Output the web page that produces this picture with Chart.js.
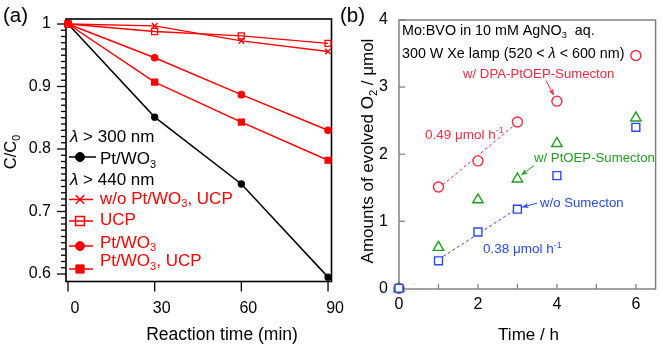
<!DOCTYPE html>
<html>
<head>
<meta charset="utf-8">
<script src="https://cdn.jsdelivr.net/npm/chart.js@4/dist/chart.umd.min.js"></script>
<style>
  html, body { margin: 0; padding: 0; background: #fff; }
  #wrap { position: relative; width: 663px; height: 347px; overflow: hidden; }
  canvas { position: absolute; top: 0; }
  #chartA { left: 0; }
  #chartB { left: 336px; }
</style>
</head>
<body>
<div id="wrap">
  <canvas id="chartA" width="350" height="347" style="width:350px;height:347px"></canvas>
  <canvas id="chartB" width="327" height="347" style="width:327px;height:347px"></canvas>
</div>
<script>
// ---- (a) C/C0 vs reaction time ----
const timeMin = [0, 30, 60, 90];
const ptWO3Uv = [1, 0.851, 0.744, 0.595];        // λ > 300 nm, Pt/WO3
const noPtUcp = [1, 0.997, 0.973, 0.956];        // λ > 440 nm, w/o Pt/WO3, UCP
const ucpOnly = [1, 0.988, 0.981, 0.969];        // λ > 440 nm, UCP
const ptWO3Vis = [1, 0.946, 0.887, 0.830];       // λ > 440 nm, Pt/WO3
const ptWO3Ucp = [1, 0.907, 0.843, 0.782];       // λ > 440 nm, Pt/WO3, UCP
const yTicksA = [0.6, 0.7, 0.8, 0.9, 1];
const xTicksA = [0, 30, 60, 90];

// ---- (b) evolved O2 vs time ----
const timeH = [0, 1, 2, 3, 4, 6];
const o2DpaPtoep = [0, 1.51, 1.90, 2.48, 2.79, 3.47];
const o2Ptoep = [0, 0.61, 1.32, 1.63, 2.16, 2.54];
const o2NoSumecton = [0, 0.41, 0.84, 1.18, 1.68, 2.40];
const rateDpaPtoep = 0.49;   // μmol h-1
const rateNoSumecton = 0.38; // μmol h-1
const fitRange = [1, 3];
const yTicksB = [0, 1, 2, 3, 4];
const xTicksB = [0, 2, 4, 6];

const FONT = '"Liberation Sans", Arial, sans-serif';
const RED_A = '#ff0000';
const RED = '#f52a40';
const GREEN = '#1f9f1f';
const BLUE = '#2a48f2';
const FRAME_B = '#7a7a7a';

// draw a run of text pieces; pieces are strings or {t, sub, sup, it}
function richWidth(ctx, parts, size) {
  let w = 0;
  parts.forEach(p => {
    const s = typeof p === 'string' ? { t: p } : p;
    const fs = (s.sub || s.sup) ? size * 0.65 : size;
    ctx.font = `${s.it ? 'italic ' : ''}${fs}px ${FONT}`;
    w += ctx.measureText(s.t).width;
  });
  return w;
}
function rich(ctx, parts, x, y, size, color, align) {
  ctx.save();
  ctx.fillStyle = color;
  ctx.textBaseline = 'alphabetic';
  ctx.textAlign = 'left';
  let cx = x;
  if (align === 'center') cx -= richWidth(ctx, parts, size) / 2;
  parts.forEach(p => {
    const s = typeof p === 'string' ? { t: p } : p;
    const small = s.sub || s.sup;
    const fs = small ? size * 0.65 : size;
    ctx.font = `${s.it ? 'italic ' : ''}${fs}px ${FONT}`;
    const dy = s.sub ? size * 0.22 : s.sup ? -size * 0.4 : 0;
    ctx.fillText(s.t, cx, y + dy);
    cx += ctx.measureText(s.t).width;
  });
  ctx.restore();
}
function richRotated(ctx, parts, x, y, size, color) {
  ctx.save();
  ctx.translate(x, y);
  ctx.rotate(-Math.PI / 2);
  rich(ctx, parts, 0, 0, size, color, 'center');
  ctx.restore();
}
function marker(ctx, style, radius, x, y, color, filled, bw) {
  ctx.save();
  ctx.strokeStyle = color;
  ctx.fillStyle = filled ? color : 'rgba(0,0,0,0)';
  ctx.lineWidth = bw;
  Chart.helpers.drawPoint(ctx, { pointStyle: style, radius, rotation: 0, borderWidth: bw }, x, y);
  ctx.restore();
}
function line(ctx, x1, y1, x2, y2, color, w) {
  ctx.save();
  ctx.strokeStyle = color;
  ctx.lineWidth = w;
  ctx.beginPath();
  ctx.moveTo(x1, y1);
  ctx.lineTo(x2, y2);
  ctx.stroke();
  ctx.restore();
}
function arrow(ctx, x1, y1, x2, y2, color) {
  line(ctx, x1, y1, x2, y2, color, 1);
  const a = Math.atan2(y2 - y1, x2 - x1);
  ctx.save();
  ctx.fillStyle = color;
  ctx.beginPath();
  ctx.moveTo(x2, y2);
  ctx.lineTo(x2 - 7 * Math.cos(a - 0.4), y2 - 7 * Math.sin(a - 0.4));
  ctx.lineTo(x2 - 4.5 * Math.cos(a), y2 - 4.5 * Math.sin(a));
  ctx.lineTo(x2 - 7 * Math.cos(a + 0.4), y2 - 7 * Math.sin(a + 0.4));
  ctx.closePath();
  ctx.fill();
  ctx.restore();
}

const toXY = (xs, ys) => xs.map((x, i) => ({ x, y: ys[i] }));

function fixedTicks(values) {
  return scale => { scale.ticks = values.map(value => ({ value })); };
}
function fixedBox(prop, size) {
  return scale => {
    scale[prop] = size;
    scale.paddingLeft = scale.paddingRight = scale.paddingTop = scale.paddingBottom = 0;
  };
}

const baseOptions = {
  responsive: false,
  animation: false,
  events: [],
  plugins: { legend: { display: false }, tooltip: { enabled: false } }
};

// ---------- chart (a) ----------
function seriesA(ys, color, style, radius, filled, order) {
  return {
    data: toXY(timeMin, ys),
    showLine: true,
    borderColor: color,
    borderWidth: 1.5,
    pointStyle: style,
    pointRadius: radius,
    pointBorderWidth: 1.3,
    pointBorderColor: color,
    pointBackgroundColor: filled ? color : 'rgba(0,0,0,0)',
    clip: false,
    order
  };
}

const decorA = {
  id: 'decorA',
  beforeDatasetsDraw(chart) {
    const { ctx, chartArea: a, scales: { x, y } } = chart;
    ctx.save();
    ctx.strokeStyle = '#000';
    ctx.lineWidth = 1.6;
    ctx.strokeRect(a.left, a.top, a.right - a.left, a.bottom - a.top);
    ctx.restore();
    // y ticks: every 0.01, longer on tenths
    for (let i = 60; i <= 100; i++) {
      const py = y.getPixelForValue(i / 100);
      const len = i % 10 === 0 ? 9 : 5;
      line(ctx, a.left - len, py, a.left, py, '#000', 1.3);
    }
    xTicksA.forEach(v => {
      const px = x.getPixelForValue(v);
      line(ctx, px, a.bottom, px, a.bottom + 10, '#000', 1.3);
    });
  },
  afterDraw(chart) {
    const { ctx } = chart;
    rich(ctx, ['(a)'], 3, 22, 20.5, '#000');
    richRotated(ctx, ['C/C', { t: '0', sub: true }], 16, 152, 16.5, '#000');
    rich(ctx, ['Reaction time (min)'], 222, 340, 17.5, '#000', 'center');

    // legend
    const lx1 = 69, lx2 = 93, mx = 80, tx = 100, fs = 17;
    rich(ctx, [{ t: 'λ', it: true }, ' > 300 nm'], 70, 142, fs, '#000');
    line(ctx, lx1, 157, lx2 + 3, 157, '#000', 1.5);
    marker(ctx, 'circle', 4.5, mx, 157, '#000', true, 1);
    rich(ctx, ['Pt/WO', { t: '3', sub: true }], tx, 164, fs, '#000');

    rich(ctx, [{ t: 'λ', it: true }, ' > 440 nm'], 70, 185, fs, '#000');
    line(ctx, lx1, 199.5, lx2, 199.5, RED_A, 1.5);
    marker(ctx, 'crossRot', 6, mx, 199.5, RED_A, false, 1.5);
    rich(ctx, ['w/o Pt/WO', { t: '3', sub: true }, ', UCP'], tx, 203.5, fs, RED_A);

    line(ctx, lx1, 221, lx2, 221, RED_A, 1.5);
    marker(ctx, 'rect', 6.3, mx, 221, RED_A, false, 1.5);
    rich(ctx, ['UCP'], tx, 224.5, fs, RED_A);

    line(ctx, lx1, 246, lx2, 246, RED_A, 1.5);
    marker(ctx, 'circle', 4.5, mx, 246, RED_A, true, 1);
    rich(ctx, ['Pt/WO', { t: '3', sub: true }], tx, 247.5, fs, RED_A);

    line(ctx, lx1, 269, lx2, 269, RED_A, 1.5);
    marker(ctx, 'rect', 5.8, mx, 269, RED_A, true, 1);
    rich(ctx, ['Pt/WO', { t: '3', sub: true }, ', UCP'], tx, 266, fs, RED_A);
  }
};

new Chart(document.getElementById('chartA'), {
  type: 'scatter',
  data: {
    datasets: [
      seriesA(ptWO3Ucp, RED_A, 'rect', 4.2, true, 1),
      seriesA(ptWO3Vis, RED_A, 'circle', 3.2, true, 2),
      seriesA(ucpOnly, RED_A, 'rect', 4.3, false, 3),
      seriesA(noPtUcp, RED_A, 'crossRot', 4, false, 4),
      seriesA(ptWO3Uv, '#000', 'circle', 3, true, 5)
    ]
  },
  options: {
    ...baseOptions,
    layout: { padding: { left: 0, right: 350 - 331.5, top: 19, bottom: 0 } },
    scales: {
      x: {
        type: 'linear', min: -0.7, max: 91.2,
        afterBuildTicks: fixedTicks(xTicksA),
        afterFit: fixedBox('height', 347 - 281.5),
        grid: { display: false, drawTicks: false },
        border: { display: false },
        ticks: { padding: 17, labelOffset: 7, color: '#000', font: { family: FONT, size: 16 } }
      },
      y: {
        type: 'linear', min: 0.588, max: 1.008,
        afterBuildTicks: fixedTicks(yTicksA),
        afterFit: fixedBox('width', 66),
        grid: { display: false, drawTicks: false },
        border: { display: false },
        ticks: {
          padding: 15, color: '#000', font: { family: FONT, size: 16 },
          callback: v => String(Math.round(v * 10) / 10)
        }
      }
    }
  },
  plugins: [decorA]
});

// ---------- chart (b) ----------
function seriesB(ys, color, style, radius) {
  return {
    data: toXY(timeH, ys),
    showLine: false,
    pointStyle: style,
    pointRadius: radius,
    pointBorderWidth: 1.4,
    pointBorderColor: color,
    pointBackgroundColor: '#fff',
    clip: false,
    order: 1
  };
}
function fitLine(rate, intercept, color) {
  return {
    data: fitRange.map(x => ({ x, y: intercept + rate * x })),
    showLine: true,
    borderColor: color,
    borderWidth: 1,
    borderDash: [3, 2.5],
    pointRadius: 0,
    order: 5
  };
}

const OFF = 336; // canvas (b) left edge within the figure
const decorB = {
  id: 'decorB',
  beforeDatasetsDraw(chart) {
    const { ctx, chartArea: a, scales: { x, y } } = chart;
    ctx.save();
    ctx.strokeStyle = FRAME_B;
    ctx.lineWidth = 1.4;
    ctx.strokeRect(a.left, a.top, a.right - a.left, a.bottom - a.top);
    ctx.restore();
    yTicksB.forEach(v => {
      const py = y.getPixelForValue(v);
      line(ctx, a.left, py, a.left + 6, py, FRAME_B, 1.2);
    });
    for (let h = 0; h <= 6; h++) {
      const px = x.getPixelForValue(h);
      line(ctx, px, a.bottom, px, a.bottom - 5, FRAME_B, 1.2);
    }
  },
  afterDraw(chart) {
    const { ctx, scales: { x, y } } = chart;
    const P = (vx, vy) => [x.getPixelForValue(vx), y.getPixelForValue(vy)];
    rich(ctx, ['(b)'], 340 - OFF, 22, 20.5, '#000');
    richRotated(ctx, ['Amounts of evolved O', { t: '2', sub: true }, ' / μmol'], 373 - OFF, 151, 17, '#000');
    rich(ctx, ['Time / h'], 528.5 - OFF, 339.5, 17, '#000', 'center');

    rich(ctx, ['Mo:BVO in 10 mM AgNO', { t: '3', sub: true }, '  aq.'], 402 - OFF, 34.5, 14.3, '#000');
    rich(ctx, ['300 W Xe lamp (520 < ', { t: 'λ', it: true }, ' < 600 nm)'], 402 - OFF, 57.5, 14.3, '#000');

    rich(ctx, ['w/ DPA-PtOEP-Sumecton'], 463 - OFF, 77.5, 13.2, RED);
    arrow(ctx, ...P(3.72, 3.10), ...P(3.92, 2.88), RED);
    rich(ctx, [`${rateDpaPtoep} μmol h`, { t: '-1', sup: true }], 425 - OFF, 138.5, 13.5, RED);

    rich(ctx, ['w/ PtOEP-Sumecton'], 534 - OFF, 162, 13.2, GREEN);
    arrow(ctx, ...P(3.42, 1.83), ...P(3.1, 1.69), GREEN);

    rich(ctx, ['w/o Sumecton'], 540 - OFF, 207, 13.2, BLUE);
    arrow(ctx, ...P(3.5, 1.27), ...P(3.12, 1.21), BLUE);
    rich(ctx, [`${rateNoSumecton} μmol h`, { t: '-1', sup: true }], 483 - OFF, 253, 13.5, BLUE);
  }
};

new Chart(document.getElementById('chartB'), {
  type: 'scatter',
  data: {
    datasets: [
      seriesB(o2NoSumecton, BLUE, 'rect', 5.6),
      seriesB(o2Ptoep, GREEN, 'triangle', 6),
      seriesB(o2DpaPtoep, RED, 'circle', 5),
      fitLine(rateDpaPtoep, 1.0, RED),
      fitLine(rateNoSumecton, 0.05, BLUE)
    ]
  },
  options: {
    ...baseOptions,
    layout: { padding: { left: 0, right: 4.5, top: 20, bottom: 0 } },
    scales: {
      x: {
        type: 'linear', min: 0, max: 6.5,
        afterBuildTicks: fixedTicks(xTicksB),
        afterFit: fixedBox('height', 347 - 289),
        grid: { display: false, drawTicks: false },
        border: { display: false },
        ticks: { padding: 6, color: '#000', font: { family: FONT, size: 16 } }
      },
      y: {
        type: 'linear', min: -0.01, max: 4.0,
        afterBuildTicks: fixedTicks(yTicksB),
        afterFit: fixedBox('width', 399 - OFF),
        grid: { display: false, drawTicks: false },
        border: { display: false },
        ticks: { padding: 11, color: '#000', font: { family: FONT, size: 16 } }
      }
    }
  },
  plugins: [decorB]
});
</script>
</body>
</html>
